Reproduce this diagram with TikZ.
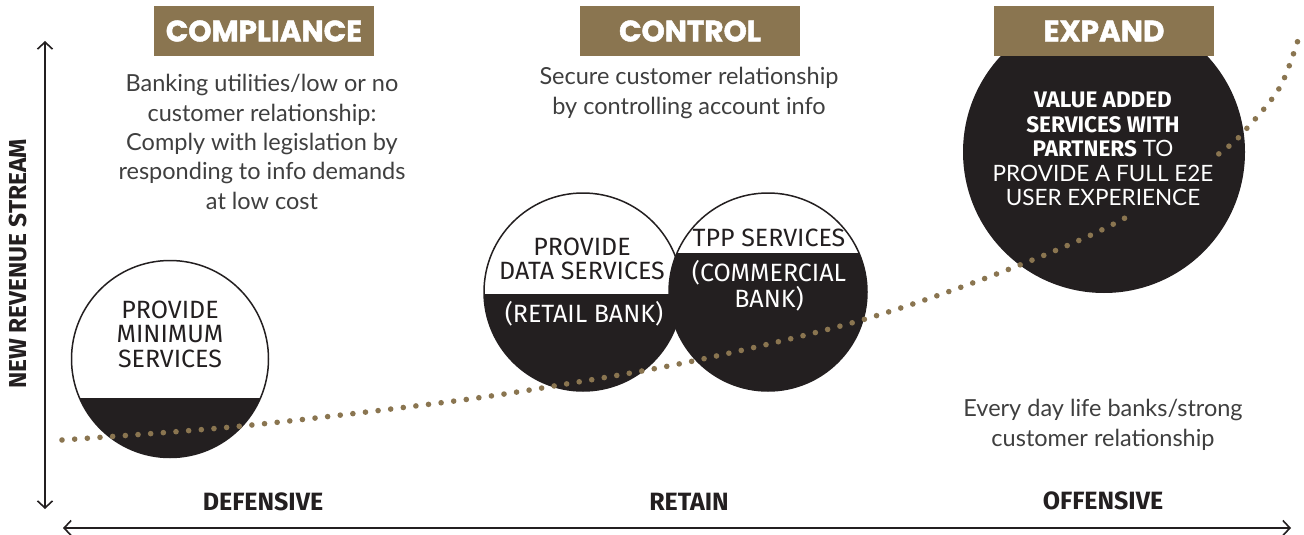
\documentclass[tikz,border=0pt]{standalone}
\usepackage{fontspec}
\setmainfont{Fira Sans}
\newfontfamily\headfont{Poppins}[BoldFeatures={FakeBold=1.6}]
\newfontfamily\lightfont{Lato}
\usetikzlibrary{arrows.meta}
\definecolor{gold}{HTML}{8A7550}
\definecolor{ink}{HTML}{231F20}
\definecolor{txtgray}{HTML}{3F3F3F}
\begin{document}
\begin{tikzpicture}[x=1pt,y=-1pt,
  head/.style={fill=gold, minimum width=220pt, minimum height=50pt, inner sep=0pt, text=white,
    font=\headfont\bfseries\fontsize{29.5}{30}\selectfont},
  desc/.style={align=center, text=txtgray, inner sep=0pt, font=\lightfont\fontsize{23.5}{29.3}\selectfont},
  ctext/.style={align=center, inner sep=0pt, font=\fontsize{25}{24.5}\selectfont},
  etext/.style={align=center, inner sep=0pt, text=white, font=\fontsize{22.5}{24.5}\selectfont},
  axlabel/.style={text=ink, inner sep=0pt, font=\bfseries\fontsize{25}{25}\selectfont},
  axis/.style={draw=ink, line width=1.6pt, {Straight Barb[length=7pt,width=15pt]}-{Straight Barb[length=7pt,width=15pt]}},
  ring/.style={circle, draw=ink, line width=1.5pt, inner sep=0pt},
  dots/.style={draw=gold, line width=5.6pt, line cap=round, dash pattern=on 0pt off 12.7pt}
]
\useasboundingbox (0,0) rectangle (1304,535);

% axes
\coordinate (ytop) at (45,41);
\coordinate (ybot) at (45,509);
\coordinate (xl) at (63,528);
\coordinate (xr) at (1291,528);
\draw[axis] (ytop) -- (ybot);
\draw[axis] (xl) -- (xr);
\node[axlabel, rotate=90, font=\bfseries\fontsize{24.5}{25}\selectfont] (ylab) at (18,264) {NEW REVENUE STREAM};

% circle 1
\begin{scope}
  \clip (170,359) circle[radius=98.5pt];
  \fill[white] (60,250) rectangle (280,470);
  \fill[ink] (60,398) rectangle (280,470);
\end{scope}
\node[ring, minimum size=197pt] (c1) at (170,359) {};

% circle 2
\begin{scope}
  \clip (583,292) circle[radius=99pt];
  \fill[white] (480,190) rectangle (690,395);
  \fill[ink] (480,294) rectangle (690,395);
\end{scope}
\node[ring, minimum size=198pt] (c2) at (583,292) {};

% circle 3
\begin{scope}
  \clip (768,292) circle[radius=99pt];
  \fill[white] (665,190) rectangle (870,395);
  \fill[ink] (665,253) rectangle (870,395);
\end{scope}
\node[ring, minimum size=198pt] (c3) at (768,292) {};

% circle 4
\node[circle, fill=ink, inner sep=0pt, minimum size=282pt] (c4) at (1104,152) {};

% dotted curve
\def\curve{plot[smooth, tension=0.55] coordinates {(62,440) (242,426) (447,402) (560,385) (698,360) (862,320) (1007,270) (1125,218) (1220,153) (1248,127) (1280,87) (1298,40)}}
\begin{scope}
  \clip (0,0) rectangle (1130,535);
  \draw[dots] \curve;
\end{scope}
\begin{scope}
  \clip (1214,0) rectangle (1304,535);
  \draw[dots] \curve;
\end{scope}

% headers
\node[head] (h1) at (264,31) {COMPLIANCE};
\node[head] (h2) at (690,31) {CONTROL};
\node[head] (h3) at (1104,31) {EXPAND};

% descriptions
\node[desc] (d1) at (262,142) {Banking utilities/low or no\\customer relationship:\\Comply with legislation by\\responding to info demands\\at low cost};
\node[desc] (d2) at (689,93) {Secure customer relationship\\by controlling account info};
\node[desc] (d3) at (1103,425) {Every day life banks/strong\\customer relationship};

% circle texts
\node[ctext, text=ink] (t1) at (170,334) {PROVIDE\\MINIMUM\\SERVICES};
\node[ctext, text=ink] (t2) at (582,259) {PROVIDE\\DATA SERVICES};
\node[ctext, text=white] (t2b) at (584,314) {(RETAIL BANK)};
\node[ctext, text=ink] (t3) at (769,238) {TPP SERVICES};
\node[ctext, text=white] (t3b) at (769,286) {(COMMERCIAL\\BANK)};
\node[etext] (t4) at (1103,149) {\bfseries VALUE ADDED\\\bfseries SERVICES WITH\\{\bfseries PARTNERS} {\lightfont TO}\\\lightfont PROVIDE A FULL E2E\\\lightfont USER EXPERIENCE};

% bottom labels
\node[axlabel] (l1) at (263,502) {DEFENSIVE};
\node[axlabel] (l2) at (689,502) {RETAIN};
\node[axlabel] (l3) at (1103,501) {OFFENSIVE};
\end{tikzpicture}
\end{document}
